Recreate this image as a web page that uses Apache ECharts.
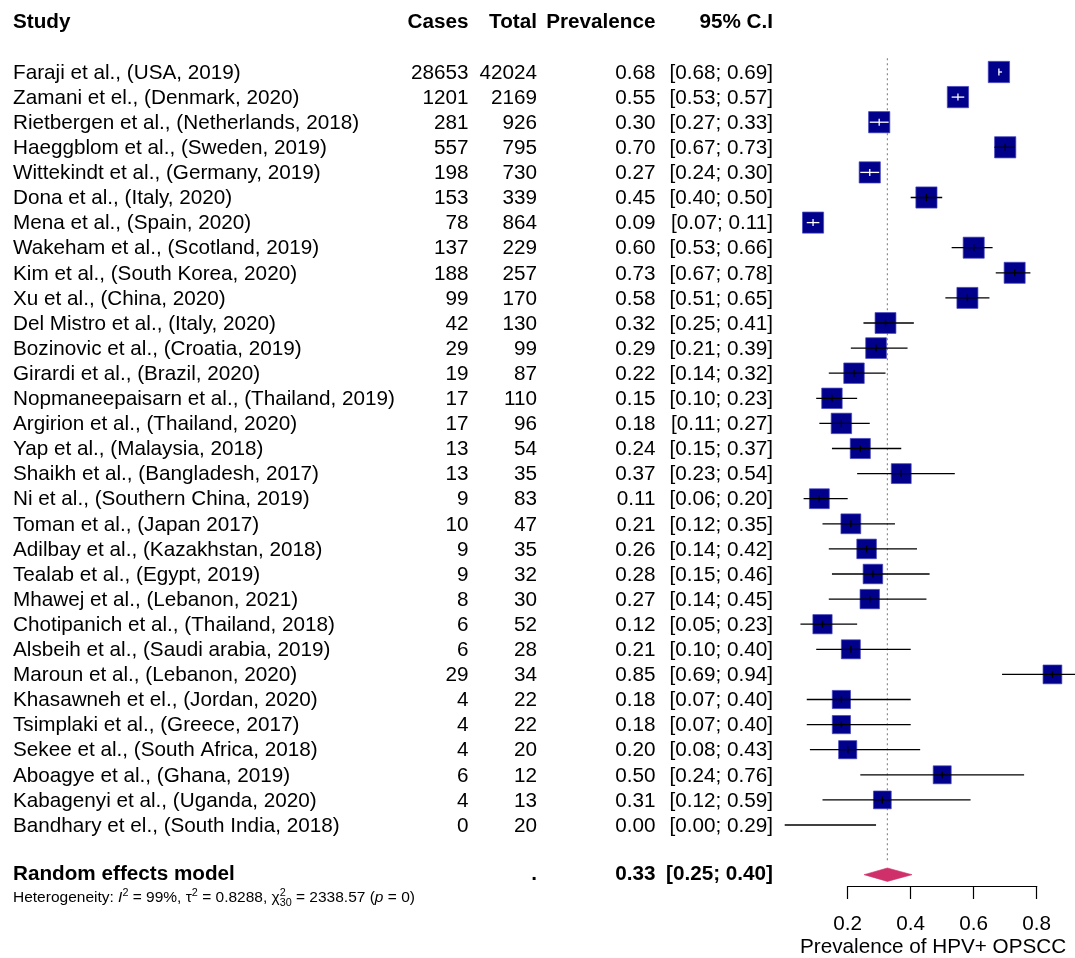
<!DOCTYPE html>
<html>
<head>
<meta charset="utf-8">
<script src="https://cdn.jsdelivr.net/npm/echarts@6.0.0/dist/echarts.min.js"></script>
<style>
  html, body { margin: 0; padding: 0; background: #fff; }
  #chart { width: 1075px; height: 958px; }
</style>
</head>
<body>
<div id="chart"></div>
<script>
// study table
var studies = [
  'Faraji et al., (USA, 2019)',
  'Zamani et el., (Denmark, 2020)',
  'Rietbergen et al., (Netherlands, 2018)',
  'Haeggblom et al., (Sweden, 2019)',
  'Wittekindt et al., (Germany, 2019)',
  'Dona et al., (Italy, 2020)',
  'Mena et al., (Spain, 2020)',
  'Wakeham et al., (Scotland, 2019)',
  'Kim et al., (South Korea, 2020)',
  'Xu et al., (China, 2020)',
  'Del Mistro et al., (Italy, 2020)',
  'Bozinovic et al., (Croatia, 2019)',
  'Girardi et al., (Brazil, 2020)',
  'Nopmaneepaisarn et al., (Thailand, 2019)',
  'Argirion et al., (Thailand, 2020)',
  'Yap et al., (Malaysia, 2018)',
  'Shaikh et al., (Bangladesh, 2017)',
  'Ni et al., (Southern China, 2019)',
  'Toman et al., (Japan 2017)',
  'Adilbay et al., (Kazakhstan, 2018)',
  'Tealab et al., (Egypt, 2019)',
  'Mhawej et al., (Lebanon, 2021)',
  'Chotipanich et al., (Thailand, 2018)',
  'Alsbeih et al., (Saudi arabia, 2019)',
  'Maroun et al., (Lebanon, 2020)',
  'Khasawneh et el., (Jordan, 2020)',
  'Tsimplaki et al., (Greece, 2017)',
  'Sekee et al., (South Africa, 2018)',
  'Aboagye et al., (Ghana, 2019)',
  'Kabagenyi et al., (Uganda, 2020)',
  'Bandhary et el., (South India, 2018)'
];
var cases = [28653, 1201, 281, 557, 198, 153, 78, 137, 188, 99, 42, 29, 19, 17, 17, 13,
  13, 9, 10, 9, 9, 8, 6, 6, 29, 4, 4, 4, 6, 4, 0];
var totals = [42024, 2169, 926, 795, 730, 339, 864, 229, 257, 170, 130, 99, 87, 110, 96, 54,
  35, 83, 47, 35, 32, 30, 52, 28, 34, 22, 22, 20, 12, 13, 20];
var prevalence = [0.68, 0.55, 0.30, 0.70, 0.27, 0.45, 0.09, 0.60, 0.73, 0.58, 0.32, 0.29, 0.22,
  0.15, 0.18, 0.24, 0.37, 0.11, 0.21, 0.26, 0.28, 0.27, 0.12, 0.21, 0.85, 0.18, 0.18, 0.20,
  0.50, 0.31, 0.00];
var ciLower = [0.68, 0.53, 0.27, 0.666, 0.24, 0.40, 0.07, 0.53, 0.67, 0.51, 0.25, 0.21, 0.14,
  0.10, 0.11, 0.15, 0.23, 0.06, 0.12, 0.14, 0.15, 0.14, 0.05, 0.10, 0.69, 0.07, 0.07, 0.08,
  0.24, 0.12, 0.00];
var ciUpper = [0.69, 0.57, 0.33, 0.73, 0.30, 0.50, 0.11, 0.66, 0.78, 0.65, 0.41, 0.39, 0.32,
  0.23, 0.27, 0.37, 0.54, 0.20, 0.35, 0.42, 0.46, 0.45, 0.23, 0.40, 0.94, 0.40, 0.40, 0.43,
  0.76, 0.59, 0.29];

// random effects model: estimate, lower, upper
var pooled = [0.326, 0.252, 0.404];
var tau2 = 0.8288;
var axisTicks = [0.2, 0.4, 0.6, 0.8];

// layout
var W = 1075;
var X0 = 784.7, XS = 315;        // pixel of 0 and pixels per unit
var ROW0 = 72, ROWH = 25.1;      // first study row and row step
var FONT = '"Liberation Sans", Arial, Helvetica, sans-serif';
var FS = 20.7;
var COL_CASES = 468.5, COL_TOTAL = 537, COL_PREV = 655.5, COL_CI = 773;
var POOLED_ROW = 31.98, HET_ROW = 32.9;

// box side from random effects weight (area ~ weight)
var weights = cases.map(function (c, i) {
  var p = c / totals[i];
  if (p <= 0 || p >= 1) return 0;
  return 1 / (1 / (totals[i] * p * (1 - p)) + tau2);
});
var wMax = Math.max.apply(null, weights);
var boxSide = weights.map(function (w) { return w ? 21.3 * Math.sqrt(w / wMax) : 0; });

function fmt(v) { return v.toFixed(2); }

function txt(x, y, s, align, bold) {
  return {
    type: 'text',
    x: x,
    y: y,
    style: {
      text: s,
      fill: '#000',
      fontSize: FS,
      fontFamily: FONT,
      fontWeight: bold ? 'bold' : 'normal',
      align: align,
      verticalAlign: 'middle'
    }
  };
}

var chart = echarts.init(document.getElementById('chart'));

var option = {
  backgroundColor: '#fff',
  animation: false,
  grid: [
    { left: X0, width: W - X0, top: ROW0 - 2.5 * ROWH, height: 36 * ROWH },
    { left: X0 + axisTicks[0] * XS, width: (axisTicks[3] - axisTicks[0]) * XS, top: 880, height: 6 }
  ],
  xAxis: [
    { gridIndex: 0, type: 'value', min: 0, max: (W - X0) / XS, show: false },
    {
      gridIndex: 1,
      type: 'value',
      min: axisTicks[0],
      max: axisTicks[3],
      interval: 0.2,
      position: 'bottom',
      axisLine: { show: true, lineStyle: { color: '#000', width: 1.2 } },
      axisTick: { show: true, length: 13, lineStyle: { color: '#000', width: 1.2 } },
      splitLine: { show: false },
      axisLabel: {
        margin: 28,
        color: '#000',
        fontSize: FS,
        fontFamily: FONT,
        showMinLabel: true,
        showMaxLabel: true,
        formatter: function (v) { return v.toFixed(1); }
      }
    }
  ],
  yAxis: [
    { gridIndex: 0, type: 'value', min: -2.5, max: 33.5, inverse: true, show: false },
    { gridIndex: 1, type: 'value', min: 0, max: 1, show: false }
  ],
  graphic: [{
    type: 'text',
    left: 800,
    top: 937,
    style: {
      text: 'Prevalence of HPV+ OPSCC',
      fill: '#000',
      fontSize: FS,
      fontFamily: FONT
    }
  }],
  series: [
    {
      // reference line at pooled estimate
      type: 'custom',
      xAxisIndex: 0,
      yAxisIndex: 0,
      data: [[pooled[0], 0]],
      renderItem: function (params, api) {
        var a = api.coord([api.value(0), -0.55]);
        var b = api.coord([api.value(0), 31.5]);
        return {
          type: 'line',
          shape: { x1: a[0], y1: a[1], x2: b[0], y2: b[1] },
          style: { stroke: '#8c8c8c', lineWidth: 1.2, lineDash: [2, 3] }
        };
      }
    },
    {
      // study boxes and confidence intervals
      type: 'custom',
      xAxisIndex: 0,
      yAxisIndex: 0,
      data: studies.map(function (s, i) {
        return [prevalence[i], i, ciLower[i], ciUpper[i], boxSide[i]];
      }),
      renderItem: function (params, api) {
        var est = api.value(0), row = api.value(1);
        var c = api.coord([est, row]);
        var lo = api.coord([api.value(2), row]);
        var hi = api.coord([api.value(3), row]);
        var sz = api.value(4);
        var inside = sz > 0 && (c[0] - lo[0]) < sz / 2 - 0.5 && (hi[0] - c[0]) < sz / 2 - 0.5;
        var col = inside ? '#fff' : '#000';
        var kids = [];
        if (sz > 0) {
          kids.push({
            type: 'rect',
            shape: { x: c[0] - sz / 2, y: c[1] - sz / 2, width: sz, height: sz },
            style: { fill: '#00008B', stroke: '#4646c0', lineWidth: 0.7 }
          });
        }
        kids.push({
          type: 'line',
          shape: { x1: lo[0], y1: c[1], x2: hi[0], y2: c[1] },
          style: { stroke: col, lineWidth: 1.3 }
        });
        if (sz > 0) {
          kids.push({
            type: 'line',
            shape: { x1: c[0], y1: c[1] - 3.5, x2: c[0], y2: c[1] + 3.5 },
            style: { stroke: col, lineWidth: 1.3 }
          });
        }
        return { type: 'group', children: kids };
      }
    },
    {
      // pooled diamond
      type: 'custom',
      xAxisIndex: 0,
      yAxisIndex: 0,
      data: [[pooled[0], POOLED_ROW, pooled[1], pooled[2]]],
      renderItem: function (params, api) {
        var row = api.value(1);
        var c = api.coord([api.value(0), row]);
        var lo = api.coord([api.value(2), row]);
        var hi = api.coord([api.value(3), row]);
        var h = 6.7;
        return {
          type: 'polygon',
          shape: { points: [[lo[0], c[1]], [c[0], c[1] - h], [hi[0], c[1]], [c[0], c[1] + h]] },
          style: { fill: '#D0306A', stroke: '#D0306A', lineWidth: 0.6 }
        };
      }
    },
    {
      // table rows
      type: 'custom',
      xAxisIndex: 0,
      yAxisIndex: 0,
      silent: true,
      data: studies.map(function (s, i) { return [0, i]; }),
      renderItem: function (params, api) {
        var i = params.dataIndex;
        var y = api.coord([0, api.value(1)])[1] + 1;
        return {
          type: 'group',
          children: [
            txt(13, y, studies[i], 'left'),
            txt(COL_CASES, y, String(cases[i]), 'right'),
            txt(COL_TOTAL, y, String(totals[i]), 'right'),
            txt(COL_PREV, y, fmt(prevalence[i]), 'right'),
            txt(COL_CI, y, '[' + fmt(ciLower[i]) + '; ' + fmt(ciUpper[i]) + ']', 'right')
          ]
        };
      }
    },
    {
      // header, pooled row and heterogeneity line
      type: 'custom',
      xAxisIndex: 0,
      yAxisIndex: 0,
      silent: true,
      data: [[0, -2]],
      renderItem: function (params, api) {
        var yh = api.coord([0, -2])[1];
        var yp = api.coord([0, POOLED_ROW])[1];
        var yq = api.coord([0, HET_ROW])[1];
        var hs = 15.5;
        var base = { fontSize: hs, fontFamily: FONT, lineHeight: 21, fill: '#000' };
        var small = { fontSize: 10.8, fontFamily: FONT, lineHeight: 21, fill: '#000' };
        return {
          type: 'group',
          children: [
            txt(13, yh, 'Study', 'left', true),
            txt(COL_CASES, yh, 'Cases', 'right', true),
            txt(COL_TOTAL, yh, 'Total', 'right', true),
            txt(COL_PREV, yh, 'Prevalence', 'right', true),
            txt(COL_CI, yh, '95% C.I', 'right', true),
            txt(13, yp, 'Random effects model', 'left', true),
            txt(COL_TOTAL, yp, '.', 'right', true),
            txt(COL_PREV, yp, fmt(pooled[0]), 'right', true),
            txt(COL_CI, yp, '[' + fmt(pooled[1]) + '; ' + fmt(pooled[2]) + ']', 'right', true),
            {
              type: 'text',
              x: 13,
              y: yq,
              style: {
                text: '{n|Heterogeneity: }{i|I}{sup|2}{n| = 99%, τ}{sup|2}{n| = 0.8288, χ}' +
                  '{sup0|2}{sub|30}{n| = 2338.57 (}{i|p}{n| = 0)}',
                align: 'left',
                verticalAlign: 'middle',
                fontSize: hs,
                fontFamily: FONT,
                fill: '#000',
                rich: {
                  n: base,
                  i: Object.assign({}, base, { fontStyle: 'italic' }),
                  sup: Object.assign({}, small, { verticalAlign: 'top' }),
                  sup0: Object.assign({}, small, { verticalAlign: 'top', width: 0 }),
                  sub: Object.assign({}, small, { verticalAlign: 'bottom' })
                }
              }
            }
          ]
        };
      }
    }
  ]
};

chart.setOption(option);
</script>
</body>
</html>
